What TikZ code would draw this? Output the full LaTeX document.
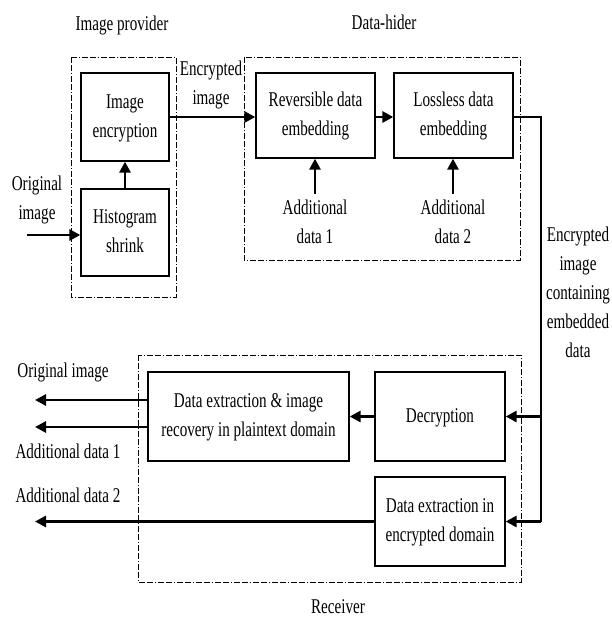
\documentclass[tikz,border=0pt]{standalone}
\usepackage{fontspec}
\setmainfont{Liberation Serif}
\usepackage{graphicx}
\usepackage{tikz}
\usetikzlibrary{arrows.meta}
\def\sqz#1{\scalebox{0.72}[1]{\begin{tabular}{@{}c@{}}#1\end{tabular}}}
\tikzset{
	every node/.style={font=\fontsize{21}{29}\selectfont, inner sep=0pt},
	blk/.style={draw, line width=1.3pt, inner sep=0pt},
	grp/.style={draw, line width=0.8pt, dash pattern=on 6pt off 2pt on 6pt off 2pt on 1pt off 2pt},
	arr/.style={line width=2.8pt, -{Triangle[length=11pt,width=11pt]}},
	wire/.style={line width=1.4pt}
}

\begin{document}
\begin{tikzpicture}[x=1pt, y=-1pt]
			%%%%% START %%%%%
			
			\useasboundingbox (0, 0) rectangle (612, 622);
			
			% groups
			\draw[grp] (71, 57) rectangle (176, 297);
			\draw[grp] (244, 57) rectangle (520, 260);
			\draw[grp] (138, 355) rectangle (521, 582);
			
			\node (tprov) at (122, 25) {\sqz{Image provider}};
			\node (thider) at (384, 24) {\sqz{Data-hider}};
			\node (trecv) at (338, 608) {\sqz{Receiver}};
			
			% image provider
			\node[blk, minimum width=88, minimum height=88] (enc) at (125, 117) {\sqz{Image\\encryption}};
			\node[blk, minimum width=88, minimum height=87] (hist) at (125, 232.5) {\sqz{Histogram\\shrink}};
			\draw[arr] (hist.north) -- (enc.south);
			
			\node (orig) at (37, 199) {\sqz{Original\\image}};
			\coordinate (origin) at (27, 235);
			\draw[arr] (origin) -- (hist.west |- origin);
			
			% data hider
			\node[blk, minimum width=119, minimum height=85] (rev) at (315.5, 115.5) {\sqz{Reversible data\\embedding}};
			\node[blk, minimum width=119, minimum height=85] (loss) at (453.5, 115.5) {\sqz{Lossless data\\embedding}};
			\node (encimg) at (211, 84) {\sqz{Encrypted\\image}};
			\draw[arr] (enc.east |- 0, 117) -- (rev.west |- 0, 117);
			\draw[arr] (rev.east |- 0, 117) -- (loss.west |- 0, 117);
			
			\node (add1) at (315, 223) {\sqz{Additional\\data 1}};
			\node (add2) at (453, 223) {\sqz{Additional\\data 2}};
			\draw[arr] (add1.north) -- (add1.north |- rev.south);
			\draw[arr] (add2.north) -- (add2.north |- loss.south);
			
			% receiver
			\node[blk, minimum width=201, minimum height=89] (recov) at (248.5, 416.5) {\sqz{Data extraction \& image\\recovery in plaintext domain}};
			\node[blk, minimum width=130, minimum height=89] (decr) at (440, 416.5) {\sqz{Decryption}};
			\node[blk, minimum width=130, minimum height=89] (extr) at (440, 521.5) {\sqz{Data extraction in\\encrypted domain}};
			\draw[arr] (decr.west) -- (recov.east);
			
			\node (marked) at (578, 294) {\sqz{Encrypted\\image\\containing\\embedded\\data}};
			\coordinate (turn) at (541, 117);
			\coordinate (tapD) at (541, 416.5);
			\coordinate (tapE) at (541, 521.5);
			\draw[wire] (loss.east |- turn) -- (turn) -- (tapE);
			\draw[arr] (tapD) -- (decr.east);
			\draw[arr] (tapE) -- (extr.east);
			
			% outputs
			\coordinate (out1) at (35, 400);
			\coordinate (out2) at (35, 427);
			\coordinate (out3) at (35, 521.5);
			\draw[arr] (recov.west |- out1) -- (out1);
			\draw[arr] (recov.west |- out2) -- (out2);
			\draw[arr] (extr.west) -- (out3);
			\node (oimg) at (63, 372) {\sqz{Original image}};
			\node (od1) at (68, 453) {\sqz{Additional data 1}};
			\node (od2) at (68, 497) {\sqz{Additional data 2}};
			
			%%%%% END %%%%%
		\end{tikzpicture}
\end{document}
